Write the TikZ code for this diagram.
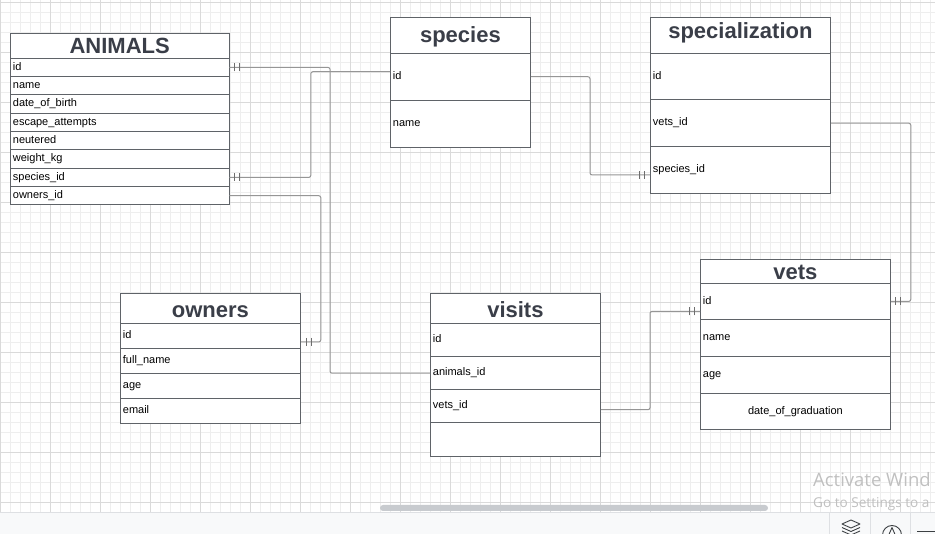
\documentclass[tikz,border=0pt]{standalone}
\usepackage{fontspec}
\setmainfont{Liberation Sans}
\newfontfamily\winfont{Open Sans}
\usetikzlibrary{decorations.markings}
\definecolor{tblline}{RGB}{95,99,104}
\definecolor{titlec}{RGB}{58,62,72}
\definecolor{relc}{RGB}{150,150,150}
\definecolor{tickc}{RGB}{110,110,110}
\definecolor{gridlo}{RGB}{238,238,238}
\definecolor{gridhi}{RGB}{218,218,218}
\definecolor{barc}{RGB}{248,249,250}
\definecolor{barline}{RGB}{222,224,227}
\definecolor{scrollc}{RGB}{200,203,207}
\definecolor{iconc}{RGB}{60,64,67}
\definecolor{winc}{RGB}{192,192,192}

\begin{document}
\begin{tikzpicture}[x=1pt,y=-1pt,
  every node/.style={inner sep=0pt},
  ent/.style={draw=tblline,line width=.8pt,fill=white,anchor=north west,text width=#1,align=center,text=titlec,font=\fontsize{22}{26}\selectfont\bfseries},
  fld/.style={draw=tblline,line width=.8pt,fill=white,anchor=north west,text width=#1,inner xsep=2.5pt,align=left,text height=8pt,text depth=2.5pt,font=\fontsize{11}{13}\selectfont},
  rel/.style={draw=relc,line width=1pt,rounded corners=2pt},
  one/.style={postaction={decorate,decoration={markings,mark=at position #1 with {\draw[tickc,line width=.7pt] (-2.5pt,-4pt) -- (-2.5pt,4pt) (2.5pt,-4pt) -- (2.5pt,4pt);}}}},
  minor/.style={draw=gridlo,line width=.6pt,step=10pt},
  major/.style={draw=gridhi,line width=.7pt,step=50pt}
]
\useasboundingbox (0,0) rectangle (935,534);
\clip (0,0) rectangle (935,534);
\fill[white] (0,0) rectangle (935,534);
\begin{scope}[yshift=-2.3pt]
  \draw[minor] (0pt,-520pt) grid (940pt,10pt);
  \draw[major] (0pt,-520pt) grid (940pt,10pt);
\end{scope}

\node[ent=218.5pt,minimum height=25pt,text height=16.5pt,text depth=0pt] (animals) at (10,32.7) {ANIMALS};
\node[fld=213.5pt,minimum height=18.6pt] (animals-id) at (10,57.7) {id};
\node[fld=213.5pt,minimum height=18pt] (animals-name) at (10,76.3) {name};
\node[fld=213.5pt,minimum height=18.4pt] (animals-dob) at (10,94.3) {date\_of\_birth};
\node[fld=213.5pt,minimum height=18.6pt] (animals-escape) at (10,112.7) {escape\_attempts};
\node[fld=213.5pt,minimum height=18pt] (animals-neutered) at (10,131.3) {neutered};
\node[fld=213.5pt,minimum height=18.4pt] (animals-weight) at (10,149.3) {weight\_kg};
\node[fld=213.5pt,minimum height=18.6pt] (animals-species) at (10,167.7) {species\_id};
\node[fld=213.5pt,minimum height=18pt] (animals-owners) at (10,186.3) {owners\_id};

\node[ent=140pt,minimum height=35.4pt,text height=17pt,text depth=2pt] (species) at (390,17.3) {species};
\node[fld=135pt,minimum height=47.3pt] (species-id) at (390,52.7) {id};
\node[fld=135pt,minimum height=47pt] (species-name) at (390,100) {name};

\node[ent=180pt,minimum height=35.4pt,text height=16pt,text depth=10pt] (specialization) at (650,17.3) {specialization};
\node[fld=175pt,minimum height=46.6pt] (spec-id) at (650,52.7) {id};
\node[fld=175pt,minimum height=47pt] (spec-vets) at (650,99.3) {vets\_id};
\node[fld=175pt,minimum height=46.4pt] (spec-species) at (650,146.3) {species\_id};

\node[ent=180pt,minimum height=30pt,text height=17pt,text depth=0pt] (owners) at (120,293.3) {owners};
\node[fld=175pt,minimum height=24.4pt] (owners-id) at (120,323.3) {id};
\node[fld=175pt,minimum height=25pt] (owners-name) at (120,347.7) {full\_name};
\node[fld=175pt,minimum height=25pt] (owners-age) at (120,372.7) {age};
\node[fld=175pt,minimum height=25pt] (owners-email) at (120,397.7) {email};

\node[ent=170pt,minimum height=30pt,text height=18pt,text depth=0pt] (visits) at (430,293.3) {visits};
\node[fld=165pt,minimum height=33pt] (visits-id) at (430,323.3) {id};
\node[fld=165pt,minimum height=33pt] (visits-animals) at (430,356.3) {animals\_id};
\node[fld=165pt,minimum height=33pt] (visits-vets) at (430,389.3) {vets\_id};
\node[fld=165pt,minimum height=33.7pt] (visits-empty) at (430,422.3) {};

\node[ent=190pt,minimum height=23.4pt,text height=17pt,text depth=0pt] (vets) at (700,259.3) {vets};
\node[fld=185pt,minimum height=36.6pt] (vets-id) at (700,282.7) {id};
\node[fld=185pt,minimum height=37pt] (vets-name) at (700,319.3) {name};
\node[fld=185pt,minimum height=36.4pt] (vets-age) at (700,356.3) {age};
\node[fld=185pt,minimum height=36.6pt,align=center] (vets-grad) at (700,392.7) {date\_of\_graduation};

\draw[rel,one=-7.5pt] ([yshift=5pt]species-id.west) -| ([xshift=81.5pt]animals-species.east) -- (animals-species.east);
\draw[rel,one=7.5pt] (animals-id.east) -| ([xshift=-100pt]visits-animals.west) -- (visits-animals.west);
\draw[rel,one=-8pt] (animals-owners.east) -| ([xshift=20pt,yshift=-6pt]owners-id.east) -- ([yshift=-6pt]owners-id.east);
\draw[rel,one=-8pt] (species-id.east) -| ([xshift=-60pt,yshift=-5pt]spec-species.west) -- ([yshift=-5pt]spec-species.west);
\draw[rel,one=-7.5pt] (spec-vets.east) -| ([xshift=20pt]vets-id.east) -- (vets-id.east);
\draw[rel,one=-8pt] ([yshift=-3.5pt]visits-vets.east) -| ([xshift=-50pt,yshift=-10pt]vets-id.west) -- ([yshift=-10pt]vets-id.west);

\fill[scrollc,rounded corners=3pt] (380,505) rectangle (768,511);
\fill[barc] (0,512.5) rectangle (935,534);
\draw[barline,line width=.8pt] (0,512.5) -- (935,512.5) (829.5,512.5) -- (829.5,534) (870,512.5) -- (870,534) (910.5,512.5) -- (910.5,534);
\draw[iconc,line width=.9pt,line join=round] (842,524) -- (851,520) -- (860,524) -- (851,528) -- cycle (842,527.5) -- (851,531.5) -- (860,527.5) (842,531) -- (851,535) -- (860,531);
\draw[iconc,line width=.9pt] (892,535) circle[radius=9.5pt];
\draw[iconc,line width=.9pt,line join=round] (887,539) -- (892,527.5) -- (897,539);
\draw[iconc,line width=1.2pt] (917,531.7) -- (935,531.7);

\node[anchor=base west,text=winc,font=\winfont\fontsize{18.5}{20}\selectfont] (wm1) at (813,486.7) {Activate Wind};
\node[anchor=base west,text=winc,font=\winfont\fontsize{13.6}{15}\selectfont] (wm2) at (813,507.7) {Go to Settings to a};
\end{tikzpicture}
\end{document}
